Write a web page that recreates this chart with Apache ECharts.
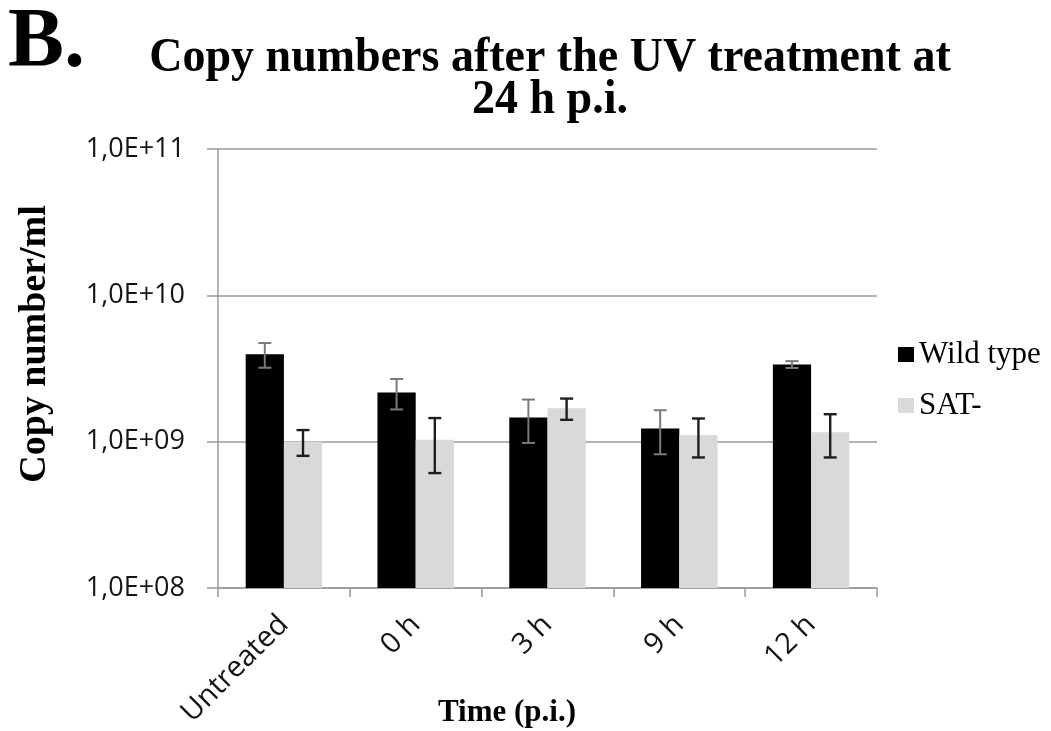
<!DOCTYPE html>
<html>
<head>
<meta charset="utf-8">
<title>Copy numbers after the UV treatment at 24 h p.i.</title>
<script src="https://cdn.jsdelivr.net/npm/echarts@6/dist/echarts.min.js"></script>
<style>
  html, body { margin: 0; padding: 0; background: #ffffff; }
  #chart { width: 1051px; height: 731px; }
</style>
</head>
<body>
<div id="chart"></div>
<script>
// Sampling times after the UV treatment
const categories = ['Untreated', '0 h', '3 h', '9 h', '12 h'];

// Mean copy numbers per ml and their standard deviations
const wildTypeMean = [3.96e9, 2.17e9, 1.46e9, 1.23e9, 3.37e9];
const wildTypeErr  = [0.76e9, 0.51e9, 0.48e9, 0.41e9, 0.18e9];
const satMean      = [1.00e9, 1.03e9, 1.69e9, 1.11e9, 1.16e9];
const satErr       = [0.20e9, 0.42e9, 0.28e9, 0.33e9, 0.38e9];

// Log axis tick labels, one per decade from 1e8 to 1e11
const yTickExponents = [8, 9, 10, 11];
const yTickLabels = ['1,0E+08', '1,0E+09', '1,0E+10', '1,0E+11'];

const seriesNames = ['Wild type', 'SAT-'];

const BAR_CATEGORY_GAP = 0.42;
const SERIF = '"Liberation Serif", "Times New Roman", serif';
const SANS = '"Open Sans", "Liberation Sans", sans-serif';

function errorRows(mean, err) {
  return mean.map((m, i) => [i, m - err[i], m + err[i]]);
}

// Whisker with caps, shifted onto the left (-1) or right (+1) bar of a group
function makeErrorRenderer(side, color, width) {
  return function (params, api) {
    const cs = params.coordSys;
    const band = cs.width / categories.length;
    const barW = band * (1 - BAR_CATEGORY_GAP) / 2;
    const lo = api.coord([api.value(0), api.value(1)]);
    const hi = api.coord([api.value(0), api.value(2)]);
    const x = lo[0] + side * barW / 2;
    const cap = 6.5;
    const style = { stroke: color, lineWidth: width };
    return {
      type: 'group',
      children: [
        { type: 'line', shape: { x1: x, y1: lo[1], x2: x, y2: hi[1] }, style },
        { type: 'line', shape: { x1: x - cap, y1: lo[1], x2: x + cap, y2: lo[1] }, style },
        { type: 'line', shape: { x1: x - cap, y1: hi[1], x2: x + cap, y2: hi[1] }, style }
      ]
    };
  };
}

const chart = echarts.init(document.getElementById('chart'));

chart.setOption({
  backgroundColor: '#ffffff',
  animation: false,
  grid: { left: 218, right: 174, top: 149, bottom: 143, containLabel: false },
  legend: {
    data: seriesNames,
    orient: 'vertical',
    left: 893,
    top: 334,
    icon: 'rect',
    itemWidth: 16,
    itemHeight: 15,
    itemGap: 20,
    textStyle: { fontFamily: SERIF, fontSize: 31, color: '#000000' }
  },
  xAxis: {
    type: 'category',
    data: categories,
    boundaryGap: true,
    axisLine: { show: true, lineStyle: { color: '#9a9a9a', width: 1.5 } },
    axisTick: { show: true, length: 9, lineStyle: { color: '#9a9a9a', width: 1.5 } },
    axisLabel: {
      rotate: 45,
      margin: 32,
      fontFamily: SANS,
      fontSize: 29,
      color: '#141414'
    },
    splitLine: { show: false }
  },
  yAxis: {
    type: 'log',
    logBase: 10,
    min: 1e8,
    max: 1e11,
    splitNumber: 3,
    axisLine: { show: true, lineStyle: { color: '#9a9a9a', width: 1.5 } },
    axisTick: { show: true, length: 11, lineStyle: { color: '#9a9a9a', width: 1.5 } },
    axisLabel: {
      margin: 33,
      fontFamily: SANS,
      fontSize: 27,
      color: '#141414',
      formatter: function (v) {
        const e = Math.round(Math.log10(v));
        const i = yTickExponents.indexOf(e);
        return i >= 0 ? yTickLabels[i] : '';
      }
    },
    splitLine: { show: true, lineStyle: { color: '#9a9a9a', width: 1.5 } }
  },
  series: [
    {
      name: seriesNames[0],
      type: 'bar',
      data: wildTypeMean,
      barGap: '0%',
      barCategoryGap: (BAR_CATEGORY_GAP * 100) + '%',
      itemStyle: { color: '#000000' },
      z: 2
    },
    {
      name: seriesNames[1],
      type: 'bar',
      data: satMean,
      barGap: '0%',
      barCategoryGap: (BAR_CATEGORY_GAP * 100) + '%',
      itemStyle: { color: '#d9d9d9' },
      z: 2
    },
    {
      name: 'wildTypeError',
      type: 'custom',
      data: errorRows(wildTypeMean, wildTypeErr),
      renderItem: makeErrorRenderer(-1, '#7a7a7a', 2),
      encode: { x: 0, y: [1, 2] },
      z: 5,
      silent: true
    },
    {
      name: 'satError',
      type: 'custom',
      data: errorRows(satMean, satErr),
      renderItem: makeErrorRenderer(1, '#1e1e1e', 2.4),
      encode: { x: 0, y: [1, 2] },
      z: 5,
      silent: true
    }
  ],
  graphic: [
    {
      type: 'text',
      x: 8, y: 44,
      style: {
        text: 'B.', font: 'bold 84px ' + SERIF, fill: '#000000',
        textAlign: 'left', textVerticalAlign: 'middle'
      }
    },
    {
      type: 'text',
      x: 550, y: 58,
      scaleY: 1.06,
      style: {
        text: 'Copy numbers after the UV treatment at', font: 'bold 46px ' + SERIF,
        fill: '#000000', textAlign: 'center', textVerticalAlign: 'middle'
      }
    },
    {
      type: 'text',
      x: 550, y: 100,
      scaleY: 1.06,
      style: {
        text: '24 h p.i.', font: 'bold 46px ' + SERIF,
        fill: '#000000', textAlign: 'center', textVerticalAlign: 'middle'
      }
    },
    {
      type: 'text',
      x: 35, y: 344,
      rotation: Math.PI / 2,
      style: {
        text: 'Copy number/ml', font: 'bold 38px ' + SERIF,
        fill: '#000000', textAlign: 'center', textVerticalAlign: 'middle'
      }
    },
    {
      type: 'text',
      x: 507, y: 713,
      style: {
        text: 'Time (p.i.)', font: 'bold 31px ' + SERIF,
        fill: '#000000', textAlign: 'center', textVerticalAlign: 'middle'
      }
    }
  ]
});
</script>
</body>
</html>
